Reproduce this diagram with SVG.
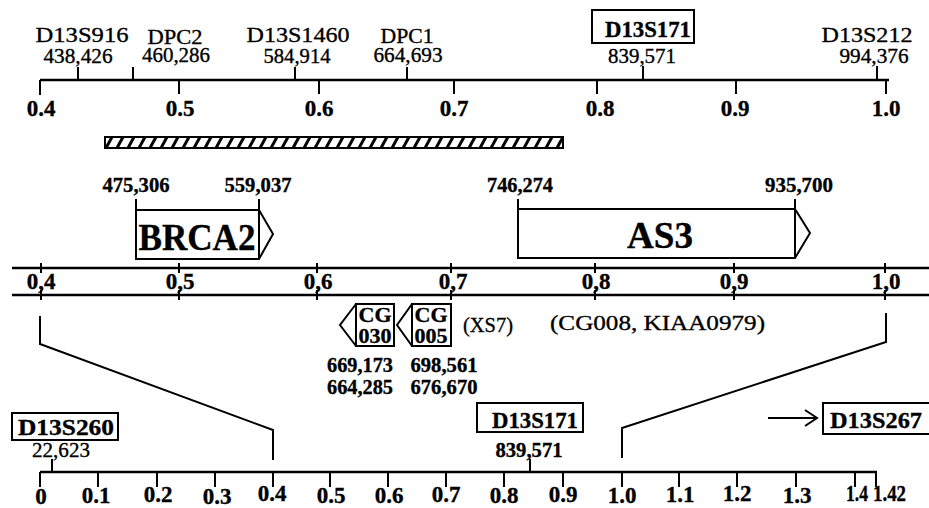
<svg xmlns="http://www.w3.org/2000/svg" width="929" height="508" viewBox="0 0 929 508">
<style>
.ax{stroke:#000;stroke-width:2.5;fill:none}
.tk{stroke:#000;stroke-width:2;fill:none}
.bx{fill:#fff;stroke:#000;stroke-width:2}
.cn{stroke:#000;stroke-width:2;fill:none}
text{font-family:"Liberation Serif","Times New Roman",serif;fill:#000;stroke:#000;stroke-width:0.35}
.m{text-anchor:middle}
.b{font-weight:bold}
.s21{font-size:21px}
.s22{font-size:22px}
.s23{font-size:23px}
.s24{font-size:24px}
.big{font-size:37px;font-weight:bold}
</style>
<defs>
<pattern id="hatch" patternUnits="userSpaceOnUse" x="105" y="137" width="11" height="11">
<rect width="11" height="11" fill="#fff"/>
<path d="M1,11 L7,0 M12,11 L18,0 M-10,11 L-4,0" stroke="#000" stroke-width="3"/>
</pattern>
</defs>
<rect width="929" height="508" fill="#fff"/>

<g id="top-scale">
<path class="ax" d="M40,80 H889"/>
<path class="tk" d="M40,80 V95 M179,80 V94 M319,80 V94 M454,80 V94 M597,80 V94 M736,80 V94 M886,80 V94"/>
<path class="tk" d="M78,67 V80 M133,67 V80 M295,67 V80 M407,67 V80 M643,66 V80 M877,66 V80"/>
<g class="s23 b m">
<text x="41" y="116">0.4</text>
<text x="180" y="116">0.5</text>
<text x="319" y="116">0.6</text>
<text x="454" y="116">0.7</text>
<text x="600" y="116">0.8</text>
<text x="735" y="116">0.9</text>
<text x="886" y="116">1.0</text>
</g>
</g>

<g id="marker-D13S916" class="m">
<text class="s22" x="82" y="42" textLength="93" lengthAdjust="spacingAndGlyphs">D13S916</text>
<text class="s21" x="78" y="63" textLength="69" lengthAdjust="spacingAndGlyphs">438,426</text>
</g>
<g id="marker-DPC2" class="m">
<text class="s21" x="175" y="44" textLength="55" lengthAdjust="spacingAndGlyphs">DPC2</text>
<text class="s21" x="176" y="62" textLength="68" lengthAdjust="spacingAndGlyphs">460,286</text>
</g>
<g id="marker-D13S1460" class="m">
<text class="s22" x="298" y="42" textLength="103" lengthAdjust="spacingAndGlyphs">D13S1460</text>
<text class="s21" x="297" y="63" textLength="67" lengthAdjust="spacingAndGlyphs">584,914</text>
</g>
<g id="marker-DPC1" class="m">
<text class="s21" x="407" y="43" textLength="53" lengthAdjust="spacingAndGlyphs">DPC1</text>
<text class="s21" x="408" y="62" textLength="69" lengthAdjust="spacingAndGlyphs">664,693</text>
</g>
<g id="marker-D13S171-top" class="m">
<rect class="bx" x="592" y="10" width="102" height="33"/>
<text class="s24 b" x="648" y="37" textLength="86" lengthAdjust="spacingAndGlyphs">D13S171</text>
<text class="s21" x="642" y="63" textLength="68" lengthAdjust="spacingAndGlyphs">839,571</text>
</g>
<g id="marker-D13S212" class="m">
<text class="s22" x="867" y="42" textLength="91" lengthAdjust="spacingAndGlyphs">D13S212</text>
<text class="s21" x="874" y="63" textLength="69" lengthAdjust="spacingAndGlyphs">994,376</text>
</g>

<g id="hatched-region">
<rect x="105" y="137" width="458" height="11" fill="url(#hatch)" stroke="#000" stroke-width="2"/>
</g>

<g id="gene-BRCA2">
<path class="tk" d="M136,199 V210 M259,199 V210"/>
<path class="bx" d="M136,210 H259 L273,234 L259,259 H136 Z"/>
<path class="tk" d="M259,210 V259"/>
<text class="big m" x="197" y="250" textLength="117" lengthAdjust="spacingAndGlyphs">BRCA2</text>
<text class="s21 b m" x="136" y="192" textLength="67" lengthAdjust="spacingAndGlyphs">475,306</text>
<text class="s21 b m" x="258" y="192" textLength="67" lengthAdjust="spacingAndGlyphs">559,037</text>
</g>
<g id="gene-AS3">
<path class="tk" d="M518,199 V209 M795,199 V209"/>
<path class="bx" d="M518,209 H795 L810,233 L795,258 H518 Z"/>
<path class="tk" d="M795,209 V258"/>
<text class="big m" x="660" y="248" textLength="66" lengthAdjust="spacingAndGlyphs">AS3</text>
<text class="s21 b m" x="520" y="192" textLength="66" lengthAdjust="spacingAndGlyphs">746,274</text>
<text class="s21 b m" x="799" y="192" textLength="68" lengthAdjust="spacingAndGlyphs">935,700</text>
</g>

<g id="mid-scale">
<path class="ax" d="M12,268 H929 M12,295 H929"/>
<path class="tk" d="M41,263 V273 M179,263 V273 M317,263 V273 M451,263 V273 M595,263 V273 M734,263 V273 M885,263 V273"/>
<path class="tk" d="M41,290 V300 M179,290 V300 M317,290 V300 M451,290 V300 M595,290 V300 M734,290 V300 M885,290 V300"/>
<g class="s23 b m">
<text x="41" y="289">0,4</text>
<text x="180" y="289">0,5</text>
<text x="318" y="289">0,6</text>
<text x="453" y="289">0,7</text>
<text x="596" y="289">0,8</text>
<text x="734" y="289">0,9</text>
<text x="886" y="289">1,0</text>
</g>
</g>

<g id="gene-CG030">
<rect class="bx" x="356" y="304" width="38" height="42"/>
<path class="tk" d="M356,304 L340,325 L356,346"/>
<text class="s21 b m" x="375" y="322" textLength="33" lengthAdjust="spacingAndGlyphs">CG</text>
<text class="s21 b m" x="375" y="343" textLength="33" lengthAdjust="spacingAndGlyphs">030</text>
<text class="s21 b m" x="360" y="372" textLength="66" lengthAdjust="spacingAndGlyphs">669,173</text>
<text class="s21 b m" x="360" y="394" textLength="66" lengthAdjust="spacingAndGlyphs">664,285</text>
</g>
<g id="gene-CG005">
<rect class="bx" x="412" y="304" width="39" height="42"/>
<path class="tk" d="M412,304 L397,325 L412,346"/>
<text class="s21 b m" x="431" y="322" textLength="33" lengthAdjust="spacingAndGlyphs">CG</text>
<text class="s21 b m" x="431" y="343" textLength="33" lengthAdjust="spacingAndGlyphs">005</text>
<text class="s21 b m" x="444" y="372" textLength="67" lengthAdjust="spacingAndGlyphs">698,561</text>
<text class="s21 b m" x="444" y="394" textLength="67" lengthAdjust="spacingAndGlyphs">676,670</text>
</g>
<g id="label-XS7">
<text class="s22" x="463" y="332" textLength="50" lengthAdjust="spacingAndGlyphs">(XS7)</text>
</g>
<g id="label-CG008">
<text class="s22" x="550" y="330" textLength="215" lengthAdjust="spacingAndGlyphs">(CG008, KIAA0979)</text>
</g>

<g id="bottom-scale">
<path class="ax" d="M40,472 H877"/>
<path class="tk" d="M40,472 V487 M98,472 V487 M157,472 V487 M215,472 V487 M273,472 V487 M330,472 V487 M388,472 V487 M446,472 V487 M504,472 V487 M563,472 V487 M622,472 V487 M679,472 V487 M737,472 V487 M796,472 V487 M855,472 V487 M876,472 V487"/>
<g class="s23 b m">
<text x="41" y="504">0</text>
<text x="96" y="503">0.1</text>
<text x="158" y="502">0.2</text>
<text x="217" y="504">0.3</text>
<text x="272" y="501">0.4</text>
<text x="331" y="503">0.5</text>
<text x="389" y="503">0.6</text>
<text x="446" y="502">0.7</text>
<text x="504" y="503">0.8</text>
<text x="563" y="502">0.9</text>
<text x="622" y="503">1.0</text>
<text x="680" y="502">1.1</text>
<text x="737" y="501">1.2</text>
<text x="797" y="503">1.3</text>
<text x="857" y="501" textLength="22" lengthAdjust="spacingAndGlyphs">1.4</text>
<text x="873" y="501" style="text-anchor:start" textLength="33" lengthAdjust="spacingAndGlyphs">1.42</text>
</g>
</g>

<g id="marker-D13S260">
<rect class="bx" x="12" y="413" width="106" height="27"/>
<text class="s24 b m" x="66" y="435" textLength="96" lengthAdjust="spacingAndGlyphs">D13S260</text>
<path class="tk" d="M52,459 V472"/>
<text class="s21 m" x="61" y="457" textLength="58" lengthAdjust="spacingAndGlyphs">22,623</text>
</g>
<g id="marker-D13S171-bottom">
<rect class="bx" x="477" y="403" width="106" height="29"/>
<text class="s24 b m" x="535" y="428" textLength="86" lengthAdjust="spacingAndGlyphs">D13S171</text>
<path class="tk" d="M530,459 V472"/>
<text class="s21 b m" x="529" y="457" textLength="67" lengthAdjust="spacingAndGlyphs">839,571</text>
</g>
<g id="marker-D13S267">
<rect class="bx" x="823" y="403" width="115" height="31"/>
<text class="s24 b" x="830" y="428" textLength="92" lengthAdjust="spacingAndGlyphs">D13S267</text>
</g>

<g id="connectors">
<path class="cn" d="M40,316 V344 L273,430 V460"/>
<path class="cn" d="M886,313 V342 L622,428 V458"/>
<path class="cn" d="M768,418 H816 M805,410 L817,418 L805,426"/>
</g>
</svg>
